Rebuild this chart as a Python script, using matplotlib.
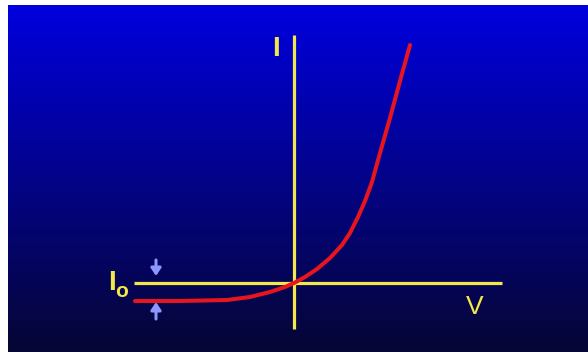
import numpy as np
import matplotlib.pyplot as plt

# Curva I-V del diodo (unidades arbitrarias)
V = [-15.9, -11.4, -6.7, -4.4, -2.4, -0.9, 0.0, 1.1, 2.3, 3.6, 4.8, 5.6, 6.4,
     7.1, 7.8, 8.6, 9.6, 10.6, 11.6]
I = [-1.8, -1.8, -1.7, -1.4, -0.9, -0.4, 0.0, 0.6, 1.4, 2.5, 3.8, 5.0, 6.6,
     8.2, 10.1, 13.0, 16.5, 20.2, 23.8]
I0 = -1.8  # corriente de saturación inversa

# Extensión de los ejes dibujados
eje_v = [-16.0, 20.8]
eje_i = [-4.6, 24.8]

amarillo = '#f2e84a'
rojo = '#e8141e'
flecha = '#8c96ff'

fig = plt.figure(figsize=(5.88, 3.52), dpi=100, facecolor='white')
ax = fig.add_axes([0, 0, 1, 1])
ax.set_xlim(-29.4, 29.4)
ax.set_ylim(-6.9, 28.3)
ax.axis('off')

# Fondo degradado azul
top = np.array([0, 0, 222]) / 255
bottom = np.array([6, 6, 52]) / 255
t = np.linspace(0, 1, 256)[:, None]
grad = (top * (1 - t) + bottom * t)[:, None, :]
ax.imshow(grad, extent=[-28.6, 29.4, -6.9, 27.8], aspect='auto', zorder=0)

# Ejes
ax.plot(eje_v, [0, 0], color=amarillo, lw=2.3, solid_capstyle='butt', zorder=2)
ax.plot([0, 0], eje_i, color=amarillo, lw=2.3, solid_capstyle='butt', zorder=2)

# Curva
ax.plot(V, I, color=rojo, lw=2.9, solid_capstyle='round', solid_joinstyle='round', zorder=3)

# Etiquetas
ax.text(-1.8, 23.35, 'I', color=amarillo, fontsize=20, fontweight='heavy',
        family='Liberation Sans', ha='center', va='center')
ax.text(18.1, -2.4, 'V', color=amarillo, fontsize=19,
        family='Liberation Sans', ha='center', va='center')
ax.text(-18.2, 0.0, 'I', color=amarillo, fontsize=20, fontweight='heavy',
        family='Liberation Sans', ha='center', va='center')
ax.text(-17.25, -0.85, 'o', color=amarillo, fontsize=15, fontweight='bold',
        family='Liberation Sans', ha='center', va='center')

# Flechas que marcan I0
x_fl = -13.8
ax.annotate('', xy=(x_fl, 0.7), xytext=(x_fl, 2.3),
            arrowprops=dict(arrowstyle='-|>,head_width=0.3,head_length=0.45',
                            color=flecha, lw=2.2, shrinkA=0, shrinkB=0))
ax.annotate('', xy=(x_fl, I0 - 0.1), xytext=(x_fl, I0 - 1.8),
            arrowprops=dict(arrowstyle='-|>,head_width=0.3,head_length=0.45',
                            color=flecha, lw=2.2, shrinkA=0, shrinkB=0))

fig.savefig('out.png', dpi=100, facecolor='white')
